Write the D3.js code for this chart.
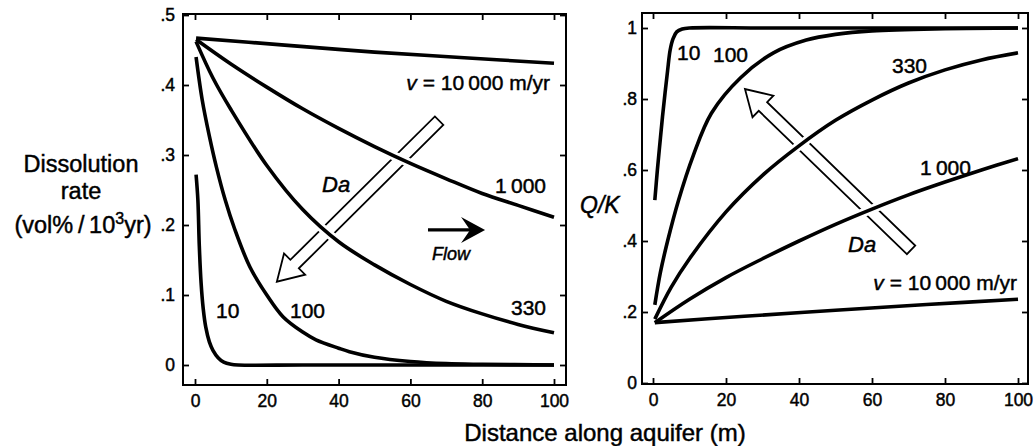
<!DOCTYPE html>
<html>
<head>
<meta charset="utf-8">
<script src="https://cdn.jsdelivr.net/npm/d3@7"></script>
<style>
  body { margin: 0; background: #fff; }
  text { font-family: "Liberation Sans", Arial, sans-serif; fill: #000; stroke: #000; stroke-width: 0.45px; }
</style>
</head>
<body>
<script>
// distance along aquifer (m) -> dissolution rate (vol% / 10^3 yr)
const rate10 = [[0.3,0.272],[0.8,0.236],[1.2,0.17],[1.7,0.117],[2.3,0.08],[3,0.054],[4,0.033],[5,0.021],[6.5,0.01],[8,0.004],[10,0.001],[12,0],[30,0],[60,0],[100,0]];
const rate100 = [[0.3,0.44],[2,0.379],[4,0.327],[6,0.282],[8.4,0.236],[11,0.195],[15.3,0.14],[20,0.1],[24.5,0.069],[30,0.047],[33.7,0.036],[40,0.024],[43,0.019],[50,0.011],[60,0.005],[70,0.002],[80,0.001],[100,0]];
const rate330 = [[0.3,0.462],[5,0.41],[10,0.365],[20,0.285],[30,0.222],[40,0.176],[50,0.143],[60,0.115],[70,0.091],[80,0.073],[90,0.058],[100,0.046]];
const rate1000 = [[0.3,0.465],[10,0.43],[20,0.397],[30,0.366],[40,0.338],[50,0.312],[60,0.288],[70,0.266],[80,0.245],[90,0.228],[100,0.211]];
const rate10000 = [[0.3,0.467],[25,0.457],[50,0.447],[75,0.439],[100,0.431]];

// distance along aquifer (m) -> saturation index Q/K
const qk10 = [[0.5,0.515],[1.2,0.6],[1.9,0.676],[2.6,0.75],[3.3,0.817],[4,0.88],[4.7,0.938],[5.5,0.97],[6.5,0.989],[8,0.997],[10,1],[30,1],[60,1],[100,1]];
const qk100 = [[0.5,0.22],[2,0.31],[4,0.4],[7,0.515],[11,0.64],[16,0.76],[24,0.86],[33,0.93],[42,0.966],[50,0.982],[60,0.992],[80,0.998],[100,1]];
const qk330 = [[0.5,0.18],[5,0.27],[10,0.35],[20,0.482],[30,0.585],[40,0.668],[50,0.74],[60,0.797],[70,0.845],[80,0.882],[90,0.91],[100,0.93]];
const qk1000 = [[0.5,0.17],[10,0.236],[20,0.297],[30,0.35],[40,0.4],[50,0.447],[60,0.49],[70,0.53],[80,0.566],[90,0.6],[100,0.632]];
const qk10000 = [[0.5,0.17],[25,0.188],[50,0.205],[75,0.221],[100,0.236]];

const xTicks = [0, 20, 40, 60, 80, 100];
const rateTicks = [0, 0.1, 0.2, 0.3, 0.4, 0.5];
const qkTicks = [0, 0.2, 0.4, 0.6, 0.8, 1];

const svg = d3.select('body').append('svg')
  .attr('width', 1034)
  .attr('height', 446);

const fmt = d => d === 0 ? '0' : d === 1 ? '1' : d3.format('.1f')(d).replace(/^0/, '');

// panel: box in pixels, scales on data
const drawPanel = (box, xr, yr, yDomain, yTicks, yPad) => {
  const x = d3.scaleLinear().domain([0, 100]).range(xr);
  const y = d3.scaleLinear().domain(yDomain).range(yr);
  const g = svg.append('g');

  g.append('g')
    .attr('transform', `translate(0,${box.bottom})`)
    .call(d3.axisBottom(x).tickValues(xTicks).tickSize(-6).tickPadding(10))
    .call(a => a.select('.domain').remove());
  g.append('g')
    .attr('transform', `translate(0,${box.top})`)
    .call(d3.axisTop(x).tickValues(xTicks).tickSize(-6).tickFormat(''))
    .call(a => a.select('.domain').remove());
  g.append('g')
    .attr('transform', `translate(${box.left},0)`)
    .call(d3.axisLeft(y).tickValues(yTicks).tickSize(-6).tickPadding(yPad).tickFormat(fmt))
    .call(a => a.select('.domain').remove());
  g.append('g')
    .attr('transform', `translate(${box.right},0)`)
    .call(d3.axisRight(y).tickValues(yTicks).tickSize(-6).tickFormat(''))
    .call(a => a.select('.domain').remove());

  g.selectAll('.tick line').attr('stroke', '#000').attr('stroke-width', 1.8);
  g.selectAll('.tick text').attr('font-size', 17.5).style('font-family', '"Liberation Sans", Arial, sans-serif');

  g.append('rect')
    .attr('x', box.left).attr('y', box.top)
    .attr('width', box.right - box.left).attr('height', box.bottom - box.top)
    .attr('fill', 'none').attr('stroke', '#000').attr('stroke-width', 2);

  return { g, x, y };
};

const hollowArrow = (g, x, y, from, to) => {
  const x0 = x(from[0]), y0 = y(from[1]), x1 = x(to[0]), y1 = y(to[1]);
  const len = Math.hypot(x1 - x0, y1 - y0);
  const ang = Math.atan2(y1 - y0, x1 - x0) * 180 / Math.PI;
  const sw = 6, hw = 15, hl = 25;
  const pts = [[0, -sw], [len - hl, -sw], [len - hl, -hw], [len, 0], [len - hl, hw], [len - hl, sw], [0, sw]];
  g.append('path')
    .attr('d', d3.line()(pts) + 'Z')
    .attr('transform', `translate(${x0},${y0}) rotate(${ang})`)
    .attr('fill', '#fff').attr('stroke', '#000').attr('stroke-width', 1.8)
    .attr('stroke-linejoin', 'miter');
};

const drawCurves = (g, x, y, curves) => {
  const line = d3.line().x(d => x(d[0])).y(d => y(d[1])).curve(d3.curveCatmullRom.alpha(0.5));
  g.selectAll('path.halo').data(curves).enter().append('path')
    .attr('class', 'halo').attr('d', line)
    .attr('fill', 'none').attr('stroke', '#fff').attr('stroke-width', 9);
  g.selectAll('path.curve').data(curves).enter().append('path')
    .attr('class', 'curve').attr('d', line)
    .attr('fill', 'none').attr('stroke', '#000').attr('stroke-width', 3.6)
    .attr('stroke-linejoin', 'round').attr('stroke-linecap', 'butt');
};

const label = (g, px, py, txt, opts = {}) => {
  const t = g.append('text')
    .attr('x', px).attr('y', py)
    .attr('font-size', opts.size || 21)
    .attr('text-anchor', opts.anchor || 'start')
    .attr('font-style', opts.italic ? 'italic' : null);
  return t.text(txt);
};

const vLabel = (g, px, py) => {
  const t = g.append('text').attr('x', px).attr('y', py)
    .attr('font-size', 21).attr('text-anchor', 'end');
  t.append('tspan').attr('font-style', 'italic').text('v');
  t.append('tspan').text(' = 10\u2009000 m/yr');
};

// left panel: dissolution rate
const L = drawPanel({ left: 183, right: 566, top: 14, bottom: 385 }, [195, 554], [365, 15], [0, 0.5], rateTicks, 8);
hollowArrow(L.g, L.x, L.y, [68, 0.349], [22.8, 0.119]);
drawCurves(L.g, L.x, L.y, [rate10000, rate1000, rate330, rate100, rate10]);

// flow arrow
const fy = L.y(0.193), fx0 = L.x(64.9), fx1 = L.x(80.8);
L.g.append('line').attr('x1', fx0).attr('x2', fx1 - 10).attr('y1', fy).attr('y2', fy)
  .attr('stroke', '#000').attr('stroke-width', 3.2);
L.g.append('path')
  .attr('d', `M${fx1},${fy} L${fx1 - 24},${fy - 13} L${fx1 - 15},${fy} L${fx1 - 24},${fy + 13} Z`)
  .attr('fill', '#000');

vLabel(L.g, 550, 90);
label(L.g, 546, 193, '1\u2009000', { anchor: 'end' });
label(L.g, 546, 315, '330', { anchor: 'end' });
label(L.g, 290, 318, '100');
label(L.g, 216, 318, '10');
label(L.g, 322, 192, 'Da', { italic: true, size: 22 });
label(L.g, 432, 260, 'Flow', { italic: true, size: 18 });

// right panel: Q/K
const R = drawPanel({ left: 642, right: 1028, top: 13, bottom: 384 }, [653, 1018], [383, 28], [0, 1], qkTicks, 5);
hollowArrow(R.g, R.x, R.y, [70.7, 0.375], [25.2, 0.828]);
drawCurves(R.g, R.x, R.y, [qk10000, qk1000, qk330, qk100, qk10]);

label(R.g, 677, 60, '10');
label(R.g, 713, 62, '100');
label(R.g, 892, 73, '330');
label(R.g, 920, 175, '1\u2009000');
label(R.g, 848, 252, 'Da', { italic: true, size: 22 });
vLabel(R.g, 1017, 290);

// axis titles
const yt = svg.append('text').attr('text-anchor', 'middle').attr('font-size', 23.5);
yt.append('tspan').attr('x', 81).attr('y', 172).text('Dissolution');
yt.append('tspan').attr('x', 81).attr('y', 199).text('rate');
const yt3 = yt.append('tspan').attr('x', 83).attr('y', 233);
yt3.append('tspan').text('(vol%\u2009/\u200910');
yt3.append('tspan').attr('font-size', 16).attr('dy', -9).text('3');
yt3.append('tspan').attr('dy', 9).text('yr)');

svg.append('text').attr('x', 580).attr('y', 213).attr('font-size', 23)
  .attr('font-style', 'italic').text('Q/K');

svg.append('text').attr('x', 605).attr('y', 441).attr('text-anchor', 'middle')
  .attr('font-size', 24).text('Distance along aquifer (m)');
</script>
</body>
</html>
